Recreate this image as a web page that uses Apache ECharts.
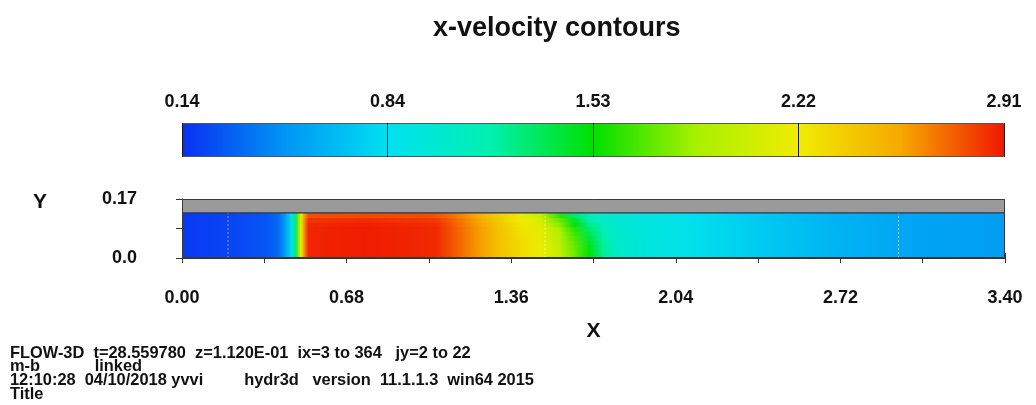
<!DOCTYPE html>
<html>
<head>
<meta charset="utf-8">
<script src="https://cdn.jsdelivr.net/npm/echarts@6/dist/echarts.min.js"></script>
<style>
  html, body { margin: 0; padding: 0; background: #fff; }
  #c { width: 1036px; height: 405px; }
</style>
</head>
<body>
<div id="c"></div>
<script>
// ---------------- data ----------------
const chartTitle = 'x-velocity contours';
const cbTickLabels = ['0.14', '0.84', '1.53', '2.22', '2.91'];
const vMin = 0.14, vMax = 2.91;
const xMin = 0, xMax = 3.40, xStep = 0.34;
const yMin = 0, yMax = 0.17, yStep = 0.085;
const wallBottom = 0.13;            // top of fluid / bottom of the grey wall
const meshX = [0.19, 1.50, 2.96];   // mesh block boundaries (faint dashed lines)
const footerLines = [
  'FLOW-3D  t=28.559780  z=1.120E-01  ix=3 to 364   jy=2 to 22',
  'm-b            linked',
  '12:10:28  04/10/2018 yvvi         hydr3d   version  11.1.1.3  win64 2015',
  'Title'
];
// sample positions along x
const xs = [0, 0.19, 0.36, 0.40, 0.43, 0.45, 0.47, 0.48, 0.49, 0.50, 0.52, 0.75, 1.05, 1.12, 1.22, 1.30,
            1.40, 1.48, 1.56, 1.62, 1.68, 1.74, 1.80, 1.90, 2.10, 2.40, 2.70, 3.00, 3.40];
// y band edges (bottom to top of fluid)
const rowEdges = [0, 0.013, 0.026, 0.039, 0.052, 0.065, 0.078, 0.091, 0.104, 0.117, 0.13];
// x-velocity per band (bottom band first)
const band0 = [0.18, 0.21, 0.28, 0.36, 0.58, 0.86, 1.30, 1.80, 2.20, 2.55, 2.88, 2.90, 2.87, 2.76, 2.60, 2.45,
               2.30, 2.20, 1.98, 1.75, 1.52, 1.22, 1.05, 0.95, 0.86, 0.73, 0.63, 0.56, 0.53];
const band1 = [0.18, 0.21, 0.28, 0.36, 0.58, 0.86, 1.30, 1.80, 2.20, 2.55, 2.88, 2.90, 2.87, 2.76, 2.60, 2.45,
               2.30, 2.20, 1.98, 1.75, 1.51, 1.22, 1.05, 0.95, 0.86, 0.73, 0.63, 0.56, 0.53];
const band2 = [0.18, 0.21, 0.28, 0.36, 0.58, 0.86, 1.30, 1.80, 2.20, 2.55, 2.88, 2.90, 2.87, 2.76, 2.60, 2.45,
               2.30, 2.20, 1.97, 1.74, 1.49, 1.21, 1.05, 0.95, 0.86, 0.73, 0.63, 0.56, 0.53];
const band3 = [0.18, 0.21, 0.28, 0.36, 0.58, 0.86, 1.30, 1.80, 2.20, 2.55, 2.88, 2.90, 2.87, 2.76, 2.60, 2.45,
               2.30, 2.19, 1.96, 1.72, 1.46, 1.20, 1.04, 0.95, 0.86, 0.73, 0.63, 0.56, 0.53];
const band4 = [0.18, 0.21, 0.28, 0.36, 0.58, 0.86, 1.30, 1.80, 2.20, 2.55, 2.88, 2.90, 2.87, 2.76, 2.60, 2.45,
               2.29, 2.18, 1.94, 1.69, 1.42, 1.18, 1.04, 0.95, 0.86, 0.73, 0.63, 0.56, 0.53];
const band5 = [0.18, 0.21, 0.28, 0.36, 0.58, 0.86, 1.30, 1.80, 2.20, 2.55, 2.88, 2.90, 2.87, 2.76, 2.60, 2.45,
               2.28, 2.17, 1.91, 1.65, 1.37, 1.16, 1.03, 0.95, 0.86, 0.73, 0.63, 0.56, 0.53];
const band6 = [0.18, 0.21, 0.28, 0.36, 0.58, 0.86, 1.30, 1.80, 2.20, 2.55, 2.88, 2.90, 2.87, 2.76, 2.60, 2.44,
               2.27, 2.15, 1.87, 1.60, 1.32, 1.13, 1.02, 0.95, 0.86, 0.73, 0.63, 0.56, 0.53];
const band7 = [0.18, 0.21, 0.28, 0.36, 0.58, 0.86, 1.30, 1.80, 2.20, 2.55, 2.87, 2.89, 2.86, 2.75, 2.59, 2.43,
               2.25, 2.12, 1.81, 1.53, 1.26, 1.10, 1.01, 0.94, 0.86, 0.73, 0.63, 0.56, 0.53];
const band8 = [0.18, 0.21, 0.28, 0.36, 0.58, 0.86, 1.30, 1.80, 2.20, 2.53, 2.84, 2.86, 2.83, 2.73, 2.57, 2.41,
               2.22, 2.08, 1.73, 1.44, 1.19, 1.06, 1.00, 0.94, 0.85, 0.72, 0.62, 0.56, 0.53];
const band9 = [0.18, 0.21, 0.28, 0.36, 0.58, 0.86, 1.30, 1.80, 2.20, 2.50, 2.77, 2.79, 2.77, 2.69, 2.54, 2.38,
               2.18, 2.02, 1.62, 1.33, 1.12, 1.03, 0.99, 0.93, 0.85, 0.72, 0.62, 0.56, 0.53];
const fieldBands = [band0, band1, band2, band3, band4, band5, band6, band7, band8, band9];

// ---------------- style ----------------
const palette = ['#0a2ef2', '#0095f5', '#00e0f0', '#00f0b0', '#00e000', '#a8f000', '#f0ec00', '#f6a800', '#f01800'];
const FONT = '"Liberation Sans", Arial, Helvetica, sans-serif';
const INK = '#111';

function colorOf(v) {
  let t = (v - vMin) / (vMax - vMin);
  t = Math.max(0, Math.min(1, t));
  return echarts.color.lerp(t, palette);
}

const fieldData = [];
fieldBands.forEach((row, r) => {
  for (let i = 0; i < xs.length - 1; i++) {
    fieldData.push([xs[i], xs[i + 1], rowEdges[r], rowEdges[r + 1], row[i], row[i + 1]]);
  }
});

const chart = echarts.init(document.getElementById('c'), null, { renderer: 'canvas' });

const xLabelFmt = v => (Math.round(v / xStep) % 2 === 0 ? v.toFixed(2) : '');
const yLabelFmt = v => (Math.abs(v) < 1e-9 ? '0.0' : (Math.abs(v - yMax) < 1e-6 ? yMax.toFixed(2) : ''));

chart.setOption({
  animation: false,
  backgroundColor: '#fff',
  title: {
    text: chartTitle,
    left: 428, top: 10,
    textStyle: { fontFamily: FONT, fontSize: 27, fontWeight: 'bold', color: INK }
  },
  grid: [
    { left: 182, right: 31, top: 199, height: 59 },
    { left: 182, right: 32, top: 123, height: 34 }
  ],
  xAxis: [
    {
      gridIndex: 0, type: 'value', min: xMin, max: xMax, interval: xStep, position: 'bottom', offset: 23,
      axisLine: { show: true, lineStyle: { color: '#333', width: 1 } },
      axisTick: { show: true, length: 5, lineStyle: { color: '#333' } },
      axisLabel: { formatter: xLabelFmt, fontFamily: FONT, fontSize: 18, fontWeight: 'bold', color: INK, margin: 8, showMinLabel: true, showMaxLabel: true },
      splitLine: { show: false },
      name: 'X', nameLocation: 'middle', nameGap: 40,
      nameTextStyle: { fontFamily: FONT, fontSize: 21, fontWeight: 'bold', color: INK }
    },
    {
      gridIndex: 0, type: 'value', min: xMin, max: xMax, interval: xStep, position: 'bottom', offset: 23,
      axisLine: { show: false },
      axisTick: { show: true, inside: true, length: 5, lineStyle: { color: '#333' } },
      axisLabel: { show: false }, splitLine: { show: false }
    },
    {
      gridIndex: 1, type: 'value', min: 0, max: cbTickLabels.length - 1, interval: 1, position: 'top', z: 5,
      axisLine: { show: false }, axisTick: { show: false },
      axisLabel: { formatter: v => cbTickLabels[Math.round(v)], fontFamily: FONT, fontSize: 18, fontWeight: 'bold', color: INK, margin: 12, showMinLabel: true, showMaxLabel: true },
      splitLine: { show: true, lineStyle: { color: '#1a1a1a', width: 1 } }
    }
  ],
  yAxis: [
    {
      gridIndex: 0, type: 'value', min: yMin, max: yMax, interval: yStep, position: 'left', offset: 23,
      axisLine: { show: true, lineStyle: { color: '#333', width: 1 } },
      axisTick: { show: true, length: 6, lineStyle: { color: '#333' } },
      axisLabel: { formatter: yLabelFmt, fontFamily: FONT, fontSize: 18, fontWeight: 'bold', color: INK, margin: 22, showMinLabel: true, showMaxLabel: true },
      splitLine: { show: false }
    },
    {
      gridIndex: 0, type: 'value', min: yMin, max: yMax, interval: yStep, position: 'left', offset: 23,
      axisLine: { show: false },
      axisTick: { show: true, inside: true, length: 6, lineStyle: { color: '#333' } },
      axisLabel: { show: false }, splitLine: { show: false }
    },
    { gridIndex: 1, type: 'value', min: 0, max: 1, show: false }
  ],
  graphic: [
    {
      type: 'text', left: 33, top: 192,
      style: { text: 'Y', font: 'bold 21px ' + FONT, fill: INK }
    },
    {
      type: 'text', left: 10, top: 345,
      style: { text: footerLines.join('\n'), font: 'bold 16.4px ' + FONT, lineHeight: 13.7, fill: INK }
    }
  ],
  series: [
    {
      name: 'x-velocity', type: 'custom', xAxisIndex: 0, yAxisIndex: 0, clip: true,
      encode: { x: [0, 1], y: [2, 3] },
      data: fieldData,
      renderItem: function (params, api) {
        const a = api.coord([api.value(0), api.value(3)]);
        const b = api.coord([api.value(1), api.value(2)]);
        return {
          type: 'rect',
          shape: { x: a[0], y: a[1], width: b[0] - a[0] + 0.7, height: b[1] - a[1] + 0.7 },
          style: {
            fill: new echarts.graphic.LinearGradient(0, 0, 1, 0, [
              { offset: 0, color: colorOf(api.value(4)) },
              { offset: 1, color: colorOf(api.value(5)) }
            ])
          }
        };
      }
    },
    {
      name: 'mesh', type: 'custom', xAxisIndex: 0, yAxisIndex: 0, z: 3,
      data: meshX.map(x => [x, wallBottom]),
      renderItem: function (params, api) {
        const a = api.coord([api.value(0), 0]);
        const b = api.coord([api.value(0), api.value(1)]);
        return {
          type: 'line',
          shape: { x1: a[0], y1: a[1], x2: b[0], y2: b[1] },
          style: { stroke: 'rgba(255,255,255,0.5)', lineWidth: 1, lineDash: [2, 2] }
        };
      }
    },
    {
      name: 'wall', type: 'custom', xAxisIndex: 0, yAxisIndex: 0, z: 4,
      data: [[xMin, xMax, wallBottom, yMax]],
      renderItem: function (params, api) {
        const a = api.coord([api.value(0), api.value(3)]);
        const b = api.coord([api.value(1), api.value(2)]);
        return {
          type: 'group',
          children: [
            { type: 'rect', shape: { x: a[0], y: a[1], width: b[0] - a[0], height: b[1] - a[1] },
              style: { fill: '#9a9a9a' } },
            { type: 'line', shape: { x1: a[0], y1: b[1], x2: b[0], y2: b[1] },
              style: { stroke: '#2c3450', lineWidth: 1.2 } }
          ]
        };
      }
    },
    {
      name: 'frame', type: 'custom', xAxisIndex: 0, yAxisIndex: 0, z: 5, silent: true,
      data: [[xMin, xMax, yMin, yMax]],
      renderItem: function (params, api) {
        const a = api.coord([api.value(0), api.value(3)]);
        const b = api.coord([api.value(1), api.value(2)]);
        return {
          type: 'rect',
          shape: { x: a[0] + 0.5, y: a[1] + 0.5, width: b[0] - a[0] - 1, height: b[1] - a[1] - 1 },
          style: { fill: 'none', stroke: '#3a3a3a', lineWidth: 1 }
        };
      }
    },
    {
      name: 'colorbar', type: 'custom', xAxisIndex: 2, yAxisIndex: 2, z: 2,
      data: [[0, cbTickLabels.length - 1]],
      renderItem: function (params, api) {
        const a = api.coord([api.value(0), 1]);
        const b = api.coord([api.value(1), 0]);
        const stops = palette.map((c, i) => ({ offset: i / (palette.length - 1), color: c }));
        return {
          type: 'rect',
          shape: { x: a[0] + 0.5, y: a[1] + 0.5, width: b[0] - a[0] - 1, height: b[1] - a[1] - 1 },
          style: { fill: new echarts.graphic.LinearGradient(0, 0, 1, 0, stops), stroke: '#555', lineWidth: 1 }
        };
      }
    }
  ]
});
</script>
</body>
</html>
